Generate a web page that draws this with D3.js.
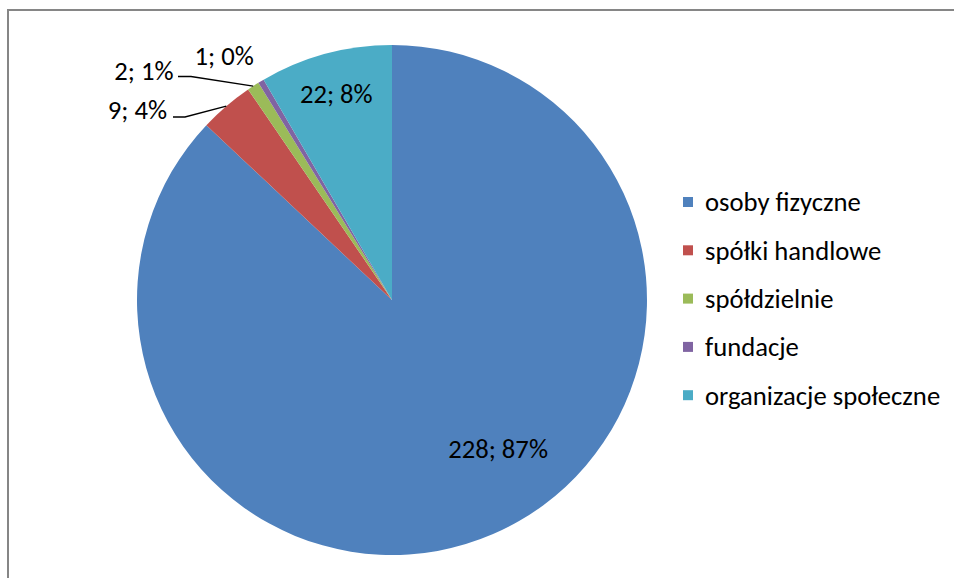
<!DOCTYPE html>
<html>
<head>
<meta charset="utf-8">
<script src="https://cdn.jsdelivr.net/npm/d3@7"></script>
<style>
  body { margin: 0; background: #fff; }
  text { font-family: Carlito, "Open Sans", sans-serif; fill: #000; }
</style>
</head>
<body>
<div class="chart"></div>
<script>
// data
var categories = ["osoby fizyczne", "spółki handlowe", "spółdzielnie", "fundacje", "organizacje społeczne"];
var values = [228, 9, 2, 1, 22];
// percentages as printed (excel rounds them to sum to 100)
var percents = [87, 4, 1, 0, 8];
var colors = ["#4F81BD", "#C0504D", "#9BBB59", "#8064A2", "#4BACC6"];

var width = 954, height = 578;
var cx = 392, cy = 300, radius = 255;
var fontSize = "26.67px";

var svg = d3.select(".chart").append("svg")
    .attr("width", width)
    .attr("height", height);

// chart frame (runs off the right / bottom edge)
svg.append("rect")
    .attr("x", 8).attr("y", 10)
    .attr("width", 980).attr("height", 620)
    .attr("fill", "none")
    .attr("stroke", "#868686")
    .attr("stroke-width", 2);

var rows = categories.map(function(c, i) {
    return {name: c, value: values[i], pct: percents[i], color: colors[i]};
});

var pie = d3.pie().sort(null).value(function(d) { return d.value; });
var arc = d3.arc().innerRadius(0).outerRadius(radius);
var arcs = pie(rows);

var g = svg.append("g").attr("transform", "translate(" + cx + "," + cy + ")");

g.selectAll(".slice")
    .data(arcs)
    .enter().append("path")
    .attr("class", "slice")
    .attr("d", arc)
    .attr("fill", function(d) { return d.data.color; });

function mid(d) { return (d.startAngle + d.endAngle) / 2; }
function polar(a, r) { return [r * Math.sin(a), -r * Math.cos(a)]; }

// label placement like excel's best fit
// polar ones: angle shift (deg) + radius factor; the small slices get a left label with a leader
var place = [
    {da: -12.1, rf: 0.717},
    {dx: -225, dy: -190, l0: 6, l1: 18, ly: 7},
    {dx: -218.5, dy: -229.5, l0: 4.5, l1: 17.5, ly: 6},
    {da: -3.6, rf: 1.162},
    {da: 0, rf: 0.838}
];

arcs.forEach(function(d, i) {
    var p = place[i], pos;
    if (p.rf) {
        pos = polar(mid(d) + p.da * Math.PI / 180, radius * p.rf);
    } else {
        pos = [p.dx, p.dy];
    }
    g.append("text")
        .attr("x", pos[0]).attr("y", pos[1])
        .attr("dy", "0.35em")
        .attr("text-anchor", p.rf ? "middle" : "end")
        .style("font-size", fontSize)
        .text(d.data.value + "; " + d.data.pct + "%");
    if (!p.rf) {
        var edge = polar(mid(d), radius);
        var ly = pos[1] + p.ly;
        g.append("path")
            .attr("d", "M" + (pos[0] + p.l0) + "," + ly + "H" + (pos[0] + p.l1) +
                       "L" + edge[0] + "," + edge[1])
            .attr("fill", "none")
            .attr("stroke", "#000")
            .attr("stroke-width", 1.3);
    }
});

// legend
var legend = svg.append("g").attr("transform", "translate(683,202)");
var item = legend.selectAll(".item")
    .data(rows)
    .enter().append("g")
    .attr("class", "item")
    .attr("transform", function(d, i) { return "translate(0," + (i * 48.3) + ")"; });
item.append("rect")
    .attr("x", 0).attr("y", -5)
    .attr("width", 10).attr("height", 10)
    .attr("fill", function(d) { return d.color; });
item.append("text")
    .attr("x", 22).attr("y", 0)
    .attr("dy", "0.35em")
    .style("font-size", fontSize)
    .text(function(d) { return d.name; });
</script>
</body>
</html>
